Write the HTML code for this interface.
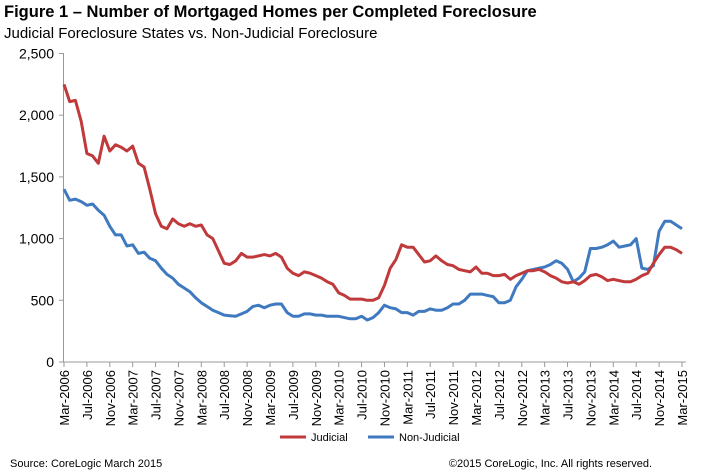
<!DOCTYPE html><html><head><style>body{margin:0;background:#fff}svg{display:block;font-family:"Liberation Sans",Arial,sans-serif}</style></head><body>
<svg id="s" width="710" height="472" xmlns="http://www.w3.org/2000/svg">
<text x="4" y="17" font-size="16.5" font-weight="bold" fill="#000">Figure 1 – Number of Mortgaged Homes per Completed Foreclosure</text>
<text x="4" y="38" font-size="15" fill="#000">Judicial Foreclosure States vs. Non-Judicial Foreclosure</text>
<g id="ax"></g>
<line x1="280" y1="437" x2="306" y2="437" stroke="#c0393b" stroke-width="3"/>
<text x="311" y="441" font-size="11">Judicial</text>
<line x1="368" y1="437" x2="394" y2="437" stroke="#3f79c0" stroke-width="3"/>
<text x="399" y="441" font-size="11">Non-Judicial</text>
<text x="10" y="467" font-size="11">Source: CoreLogic  March 2015</text>
<text x="652" y="467" font-size="11" text-anchor="end">©2015 CoreLogic, Inc. All rights reserved.</text>
</svg>
<script>
var R=[2250,2110,2120,1950,1690,1670,1610,1830,1710,1760,1740,1710,1750,1610,1580,1400,1200,1100,1080,1160,1120,1100,1120,1100,1110,1030,1000,900,800,790,820,880,850,850,860,870,860,880,850,760,720,700,730,720,700,680,650,630,560,540,510,510,510,500,500,520,620,760,830,950,930,930,870,810,820,860,820,790,780,750,740,730,770,720,720,700,700,710,670,700,720,740,740,750,730,700,680,650,640,650,630,660,700,710,690,660,670,660,650,650,670,700,720,800,870,930,930,910,880];
var B=[1400,1310,1320,1300,1270,1280,1230,1190,1100,1030,1030,940,950,880,890,840,820,760,710,680,630,600,570,520,480,450,420,400,380,375,370,390,410,450,460,440,460,470,470,400,370,370,390,390,380,380,370,370,370,360,350,350,370,340,360,400,460,440,430,400,400,380,410,410,430,420,420,440,470,470,500,550,550,550,540,530,480,480,500,610,670,740,750,760,770,790,820,800,750,650,680,730,920,920,930,950,980,930,940,950,1000,760,750,780,1060,1140,1140,1110,1080];
var x0=64,dx=618/108,y0=362,k=308.5/2500,h='';
var mons=['Mar','Jul','Nov'];
for(var v=0;v<=2500;v+=500){var y=y0-v*k;h+='<line x1="59" y1="'+y+'" x2="64" y2="'+y+'" stroke="#999"/><text x="54" y="'+(y+5)+'" font-size="14" text-anchor="end">'+(v?v.toLocaleString('en-US'):'0')+'</text>';}
h+='<line x1="63.5" y1="'+(y0-2500*k)+'" x2="63.5" y2="'+y0+'" stroke="#999"/><line x1="63" y1="'+y0+'" x2="686" y2="'+y0+'" stroke="#999"/>';
for(var i=0;i<=27;i++){var x=x0+i*4*dx;var yr=2006+Math.floor((i+0)/3);var m=mons[i%3];h+='<line x1="'+x+'" y1="'+y0+'" x2="'+x+'" y2="'+(y0+5)+'" stroke="#999"/><text transform="translate('+(x+5)+',370) rotate(-90)" font-size="13" text-anchor="end">'+m+'-'+yr+'</text>';}
function pl(a,c){return '<polyline fill="none" stroke="'+c+'" stroke-width="3" stroke-linejoin="round" points="'+a.map(function(v,i){return (x0+i*dx).toFixed(1)+','+(y0-v*k).toFixed(1)}).join(' ')+'"/>';}
h+=pl(B,'#3f79c0')+pl(R,'#c0393b');
document.getElementById('ax').innerHTML=h;
</script>
</body></html>
